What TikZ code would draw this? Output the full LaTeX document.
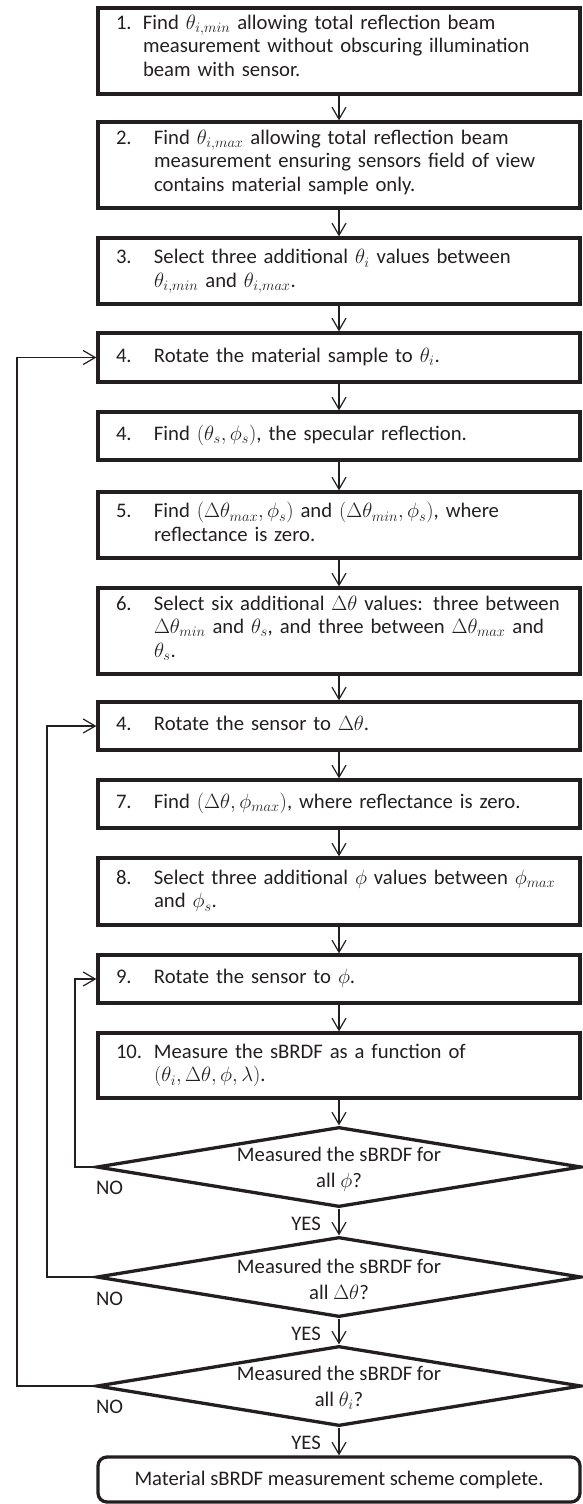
\RequirePackage{fix-cm}
\documentclass[tikz,border=0pt]{standalone}
\usepackage{fontspec}
\setmainfont{Carlito}
\usetikzlibrary{arrows.meta,shapes.geometric,calc}
\definecolor{ink}{HTML}{231F20}
\newcommand\stepfont{\fontsize{20.7pt}{23.5pt}\selectfont}
\newcommand\diafont{\fontsize{20.7pt}{26pt}\selectfont}
\newcommand\steplines[2]{\begin{tabular}{@{}p{#1}@{}l@{}}#2\end{tabular}}
\tikzset{
  stepbox/.style={draw=ink, line width=3.3pt, minimum width=482pt, text width=446pt,
    inner xsep=18pt, inner ysep=0pt, align=left, font=\stepfont, text=ink},
  decision/.style={diamond, draw=ink, line width=3.3pt, minimum width=485pt,
    minimum height=80pt, inner sep=0pt},
  dtext/.style={align=center, font=\diafont, inner sep=0pt, text=ink},
  endbox/.style={draw=ink, line width=3.3pt, rounded corners=9pt, minimum width=482pt,
    minimum height=45pt, font=\stepfont, text=ink},
  lbl/.style={font=\stepfont, inner sep=0pt, text=ink},
  arr/.style={draw=ink, line width=1.2pt, -{Straight Barb[length=12pt,width=14pt]}},
}
\begin{document}
\begin{tikzpicture}[x=1pt,y=-1pt]
\useasboundingbox (0,0) rectangle (582,1504);

\node[stepbox, minimum height=86pt] (b1) at (339,51)
  {\steplines{27pt}{1.& Find $\theta_{i,min}$ allowing total reflection beam\\
   & measurement without obscuring illumination\\ & beam with sensor.\\[6pt]}};
\node[stepbox, minimum height=86pt] (b2) at (339,165)
  {\steplines{38pt}{2.& Find $\theta_{i,max}$ allowing total reflection beam\\
   & measurement ensuring sensors field of view\\ & contains material sample only.\\[4pt]}};
\node[stepbox, minimum height=66pt] (b3) at (339,271)
  {\steplines{38pt}{3.& Select three additional $\theta_i$ values between\\
   & $\theta_{i,min}$ and $\theta_{i,max}$.}};
\node[stepbox, minimum height=49pt] (b4a) at (339,357.5)
  {\steplines{38pt}{4.& Rotate the material sample to $\theta_i$.}};
\node[stepbox, minimum height=48pt] (b4b) at (339,436)
  {\steplines{38pt}{4.& Find $(\theta_s,\phi_s)$, the specular reflection.}};
\node[stepbox, minimum height=66pt] (b5) at (339,525)
  {\steplines{38pt}{5.& Find $(\Delta\theta_{max},\phi_s)$ and $(\Delta\theta_{min},\phi_s)$, where\\
   & reflectance is zero.}};
\node[stepbox, minimum height=86pt] (b6) at (339,631)
  {\steplines{38pt}{6.& Select six additional $\Delta\theta$ values: three between\\
   & $\Delta\theta_{min}$ and $\theta_s$, and three between $\Delta\theta_{max}$ and\\ & $\theta_s$.\\[4pt]}};
\node[stepbox, minimum height=48pt] (b4c) at (339,726)
  {\steplines{38pt}{4.& Rotate the sensor to $\Delta\theta$.}};
\node[stepbox, minimum height=48pt] (b7) at (339,804)
  {\steplines{38pt}{7.& Find $(\Delta\theta,\phi_{max})$, where reflectance is zero.}};
\node[stepbox, minimum height=67pt] (b8) at (339,891.5)
  {\steplines{38pt}{8.& Select three additional $\phi$ values between $\phi_{max}$\\
   & and $\phi_s$.}};
\node[stepbox, minimum height=48pt] (b9) at (339,979)
  {\steplines{38pt}{9.& Rotate the sensor to $\phi$.}};
\node[stepbox, minimum height=65pt] (b10) at (339,1065.5)
  {\steplines{38pt}{10.& Measure the sBRDF as a function of\\
   & $(\theta_i,\Delta\theta,\phi,\lambda)$.}};

\node[decision] (d1) at (339,1167) {};
\node[dtext] (d1t) at ($(d1.center)+(0,2)$) {Measured the sBRDF for\\all $\phi$?};
\node[decision] (d2) at (339,1277) {};
\node[dtext] (d2t) at ($(d2.center)+(0,2)$) {Measured the sBRDF for\\all $\Delta\theta$?};
\node[decision] (d3) at (339,1386) {};
\node[dtext] (d3t) at ($(d3.center)+(0,2)$) {Measured the sBRDF for\\all $\theta_i$?};

\node[endbox] (fin) at (339,1479.5) {Material sBRDF measurement scheme complete.};

\draw[arr] (b1) -- (b2);
\draw[arr] (b2) -- (b3);
\draw[arr] (b3) -- (b4a);
\draw[arr] (b4a) -- (b4b);
\draw[arr] (b4b) -- (b5);
\draw[arr] (b5) -- (b6);
\draw[arr] (b6) -- (b4c);
\draw[arr] (b4c) -- (b7);
\draw[arr] (b7) -- (b8);
\draw[arr] (b8) -- (b9);
\draw[arr] (b9) -- (b10);
\draw[arr] (b10) -- (d1);
\draw[arr] (d1) -- (d2);
\draw[arr] (d2) -- (d3);
\draw[arr] (d3) -- (fin);

\node[lbl, anchor=east] (y1) at ($(d1.south)+(-18,15)$) {YES};
\node[lbl, anchor=east] (y2) at ($(d2.south)+(-18,15)$) {YES};
\node[lbl, anchor=east] (y3) at ($(d3.south)+(-18,15)$) {YES};
\node[lbl, anchor=west] (n1) at ($(d1.west)+(1,21)$) {NO};
\node[lbl, anchor=west] (n2) at ($(d2.west)+(1,22)$) {NO};
\node[lbl, anchor=west] (n3) at ($(d3.west)+(1,21)$) {NO};

\coordinate (outer) at (17,0);
\coordinate (middle) at (47,0);
\coordinate (inner) at (75,0);
\draw[arr] (d3.west) -- (d3.west -| outer) |- (b4a.west);
\draw[arr] (d2.west) -- (d2.west -| middle) |- (b4c.west);
\draw[arr] (d1.west) -- (d1.west -| inner) |- (b9.west);
\end{tikzpicture}
\end{document}
